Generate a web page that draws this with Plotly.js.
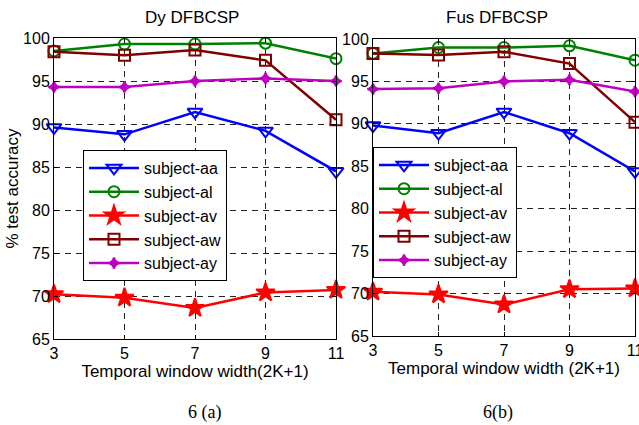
<!DOCTYPE html>
<html><head><meta charset="utf-8">
<script src="https://cdn.plot.ly/plotly-3.0.1.min.js"></script>
<style>html,body{margin:0;padding:0;background:#fff}#chart{width:639px;height:425px}</style>
</head><body><div id="chart"></div>
<script>
const windowWidths = [3, 5, 7, 9, 11];
const subjects = ["subject-aa", "subject-al", "subject-av", "subject-aw", "subject-ay"];
// Dy DFBCSP
const dyAA = [89.6, 88.8, 91.4, 89.2, 84.5];
const dyAL = [98.5, 99.3, 99.3, 99.4, 97.6];
const dyAV = [70.2, 69.8, 68.6, 70.4, 70.7];
const dyAW = [98.4, 98.0, 98.6, 97.4, 90.5];
const dyAY = [94.3, 94.3, 95.0, 95.3, 95.0];
// Fus DFBCSP
const fusAA = [89.8, 88.9, 91.4, 88.9, 84.4];
const fusAL = [98.3, 99.0, 99.0, 99.2, 97.5];
const fusAV = [70.2, 69.9, 68.7, 70.5, 70.6];
const fusAW = [98.3, 98.1, 98.5, 97.1, 90.2];
const fusAY = [94.1, 94.2, 95.0, 95.2, 93.8];

const styles = [
  {color:'#0000ff', symbol:'triangle-down-open', size:13},
  {color:'#008000', symbol:'circle-open', size:11},
  {color:'#ff0000', symbol:'star', size:14},
  {color:'#800000', symbol:'square-open', size:11},
  {color:'#c000c0', symbol:'star-diamond', size:8}
];
const dySeries = [dyAA, dyAL, dyAV, dyAW, dyAY];
const fusSeries = [fusAA, fusAL, fusAV, fusAW, fusAY];

const traces = [];
function addTraces(series, xa, ya, leg) {
  series.forEach((vals, i) => {
    const s = styles[i];
    traces.push({
      x: windowWidths, y: vals, name: subjects[i], type: 'scatter', mode: 'lines+markers',
      xaxis: xa, yaxis: ya, legend: leg, cliponaxis: false,
      line: {color: s.color, width: 2.5},
      marker: {symbol: s.symbol, size: s.size, color: s.color, line: {color: s.color, width: 2}}
    });
  });
}
addTraces(dySeries, 'x', 'y', 'legend');
addTraces(fusSeries, 'x2', 'y2', 'legend2');

const font = {family: 'Liberation Sans, Arial, sans-serif', size: 16, color: '#000'};
const titleFont = {family: 'Liberation Sans, Arial, sans-serif', size: 17, color: '#000'};
function xax(dom, title) {
  return {domain: dom, range: [3, 11], tickvals: windowWidths, ticktext: windowWidths.map(String),
    showline: true, mirror: 'ticks', linecolor: '#000', linewidth: 1, ticks: 'inside', ticklen: 4, tickcolor: '#000',
    showgrid: true, gridcolor: '#222', griddash: '6px,5px', gridwidth: 1, zeroline: false, ticklabeloverflow: 'allow',
    tickfont: font, title: {text: title, font: titleFont, standoff: 0}};
}
function yax(dom, anchor, title) {
  return {domain: dom, anchor: anchor, range: [65, 100], tickvals: [65,70,75,80,85,90,95,100],
    showline: true, mirror: 'ticks', linecolor: '#000', linewidth: 1, ticks: 'inside', ticklen: 4, tickcolor: '#000',
    showgrid: true, gridcolor: '#222', griddash: '6px,5px', gridwidth: 1, zeroline: false, ticklabeloverflow: 'allow',
    tickfont: font, title: {text: title, font: titleFont, standoff: 0}};
}
const legendBase = {bgcolor: '#fff', bordercolor: '#000', borderwidth: 1, itemwidth: 50,
  font: {family: 'Liberation Sans, Arial, sans-serif', size: 16, color: '#000'},
  xanchor: 'left', yanchor: 'top', tracegroupgap: 0};

const annFont = {family: 'Liberation Serif, Times New Roman, serif', size: 18, color: '#000'};
function ann(text, x, y, f) {
  return {text: text, x: x/639, y: (425-y)/425, xref: 'paper', yref: 'paper', showarrow: false,
    xanchor: 'center', yanchor: 'middle', font: f};
}
const layout = {
  width: 639, height: 425, margin: {l: 0, r: 0, t: 0, b: 0},
  paper_bgcolor: '#fff', plot_bgcolor: '#fff', showlegend: true,
  xaxis: Object.assign(xax([54/639, 336/639], 'Temporal window width(2K+1)'), {anchor: 'y'}),
  yaxis: yax([(425-339)/425, (425-38)/425], 'x', '% test accuracy'),
  xaxis2: Object.assign(xax([373/639, 635/639], 'Temporal window width (2K+1)'), {anchor: 'y2'}),
  yaxis2: yax([(425-336)/425, (425-39)/425], 'x2', ''),
  legend: Object.assign({x: 83/639, y: (425-150)/425}, legendBase),
  legend2: Object.assign({x: 373/639, y: (425-147)/425}, legendBase),
  annotations: [
    ann('Dy DFBCSP', 192, 17, titleFont),
    ann('Fus DFBCSP', 497, 17, titleFont),
    ann('6 (a)', 204, 412, annFont),
    ann('6(b)', 498, 412, annFont)
  ]
};
Plotly.newPlot('chart', traces, layout, {displayModeBar: false, staticPlot: true});
</script></body></html>
